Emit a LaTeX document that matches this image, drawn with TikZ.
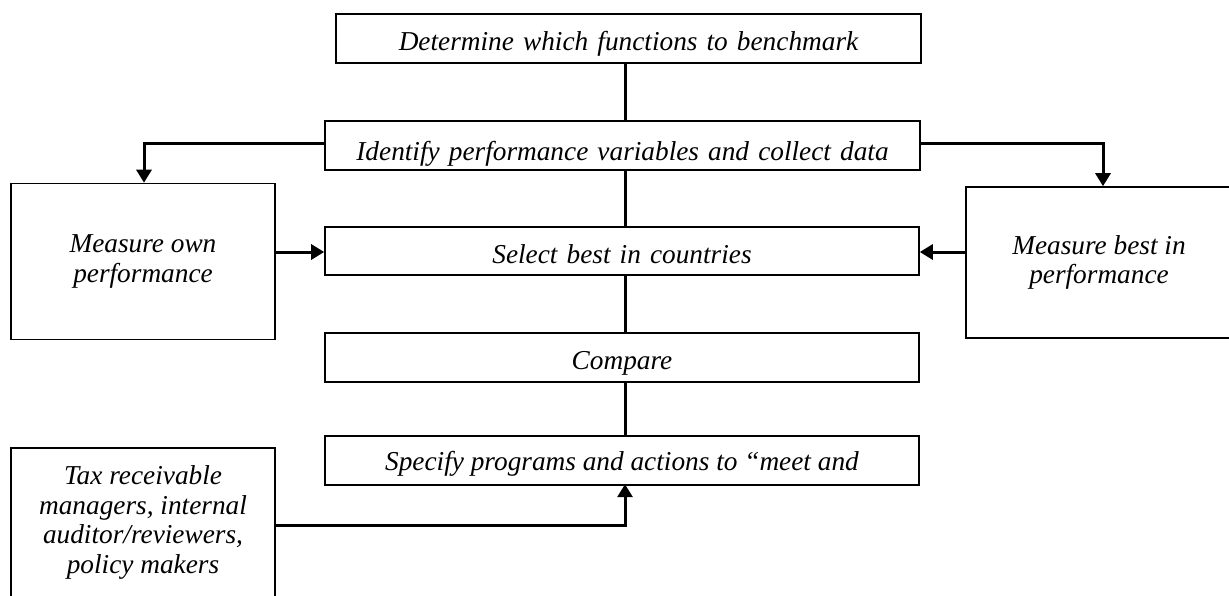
\documentclass[tikz,border=0pt]{standalone}
\usepackage{fontspec}
\setmainfont{Liberation Serif}
\usetikzlibrary{arrows.meta}
\newcommand\diafont{\fontsize{27.3}{29.6}\selectfont\itshape}
\begin{document}
\begin{tikzpicture}[x=1pt,y=-1pt,
  boxline/.style={draw=black, line width=1.6pt},
  onebox/.style={boxline, fill=white, inner sep=0pt, align=center, font=\diafont},
  multibox/.style={boxline, fill=white, inner sep=0pt, align=center, font=\diafont},
  txt/.style={inner sep=0pt, font=\diafont},
  conn/.style={line width=3pt},
  arr/.style={conn, -{Triangle[width=15pt,length=13pt]}}
]
\path[use as bounding box, clip] (0,0) rectangle (1229,595);
\coordinate (spine) at (625,0);
\coordinate (lt) at (144,143);
\coordinate (rt) at (1103,143);
\coordinate (mid) at (0,252);
\coordinate (low) at (0,525);

% main column
\node[onebox, text width=585pt, text height=36pt, text depth=13pt] (top) at (628.5,38.5)
  {Determine which functions to benchmark};
\node[onebox, text width=595pt, text height=39pt, text depth=10pt] (ident) at (622.5,145.5)
  {Identify performance variables and collect data};
\node[onebox, text width=594pt, text height=36pt, text depth=12pt] (select) at (622,251)
  {Select best in countries};
\node[onebox, text width=594pt, text height=36pt, text depth=13pt] (comp) at (622,357.5)
  {Compare};
\node[fill=white, inner sep=0pt, outer sep=0pt, minimum width=594pt, minimum height=49pt] (spec) at (622,460.5) {};
\begin{scope}
  \clip (spec.north west) rectangle (spec.east |- 0,475.5);
  \node[txt, anchor=base] (spectext) at (622,470) {Specify programs and actions to “meet and};
\end{scope}
\draw[boxline] (spec.north west) rectangle (spec.south east);

% side boxes
\node[multibox, minimum width=264pt, minimum height=156pt] (own) at (143,261.5)
  {Measure own\\performance};
\node[multibox, minimum width=266pt, minimum height=151pt] (best) at (1099,262.5)
  {Measure best in\\performance};
\node[multibox, minimum width=264pt, minimum height=149pt] (tax) at (143,522.5)
  {Tax receivable\\managers, internal\\auditor/reviewers,\\policy makers};

% connectors
\draw[conn] (top.south -| spine) -- (ident.north -| spine);
\draw[conn] (ident.south -| spine) -- (select.north -| spine);
\draw[conn] (select.south -| spine) -- (comp.north -| spine);
\draw[conn] (comp.south -| spine) -- ([yshift=-0.8pt]spec.north -| spine);
\draw[arr] (ident.west |- lt) -| (own.north -| lt);
\draw[arr] (ident.east |- rt) -| (best.north -| rt);
\draw[arr] (own.east |- mid) -- (select.west |- mid);
\draw[arr] (best.west |- mid) -- (select.east |- mid);
\draw[arr] (tax.east |- low) -| ([yshift=0.8pt]spec.south -| spine);
\end{tikzpicture}
\end{document}
